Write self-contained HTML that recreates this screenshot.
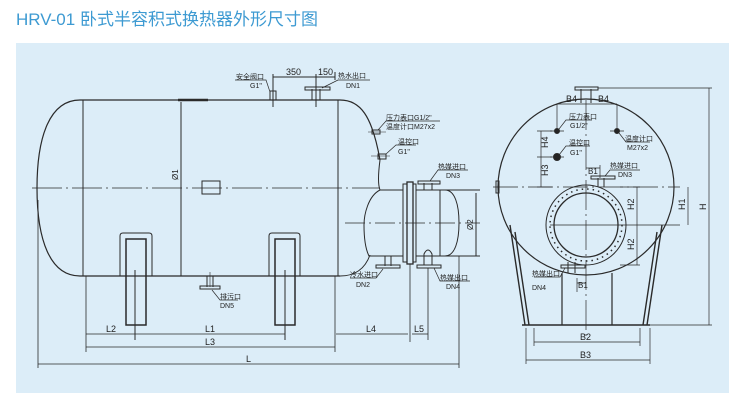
<!DOCTYPE html>
<html><head><meta charset="utf-8"><style>
html,body{margin:0;padding:0;background:#fff;}
body{width:750px;height:407px;position:relative;overflow:hidden;}
.t{position:absolute;left:16px;top:5px;font:17px "Liberation Sans","Noto Sans CJK SC",sans-serif;color:#3d9ad2;white-space:nowrap;}
.p{position:absolute;left:16px;top:43px;width:713px;height:350px;background:#dcedf8;}
svg{position:absolute;left:0;top:0;}
text{font-family:"Liberation Sans","Noto Sans CJK SC",sans-serif;fill:#222;}
</style></head><body>
<div class="t">HRV-01 卧式半容积式换热器外形尺寸图</div>
<div class="p"></div>
<svg width="750" height="407" viewBox="0 0 750 407" fill="none" stroke="#2a2a2a" stroke-width="1">
<!-- main vessel -->
<path d="M80 100 L340 100 C360 100 372 115 380 160 M340 276 L80 276 C50 276 37 240 37 188 C37 136 50 100 80 100" stroke-width="1.2"/>
<path d="M340 276 C358 276 366 266 370 255"/>
<line x1="83" y1="100" x2="83" y2="276"/><line x1="338" y1="100" x2="338" y2="276"/>
<line x1="178" y1="100" x2="208" y2="100" stroke-width="2.5"/>
<line x1="181" y1="102" x2="181" y2="276"/>
<text x="178" y="180" font-size="8" transform="rotate(-90 178 180)" stroke="none">Ø1</text>
<rect x="202" y="181" width="18" height="13"/>
<line x1="32" y1="188" x2="380" y2="188" stroke-dasharray="30 4 2 4" stroke-width=".7"/>
<!-- saddles -->
<path d="M120 276 V236 Q120 233 123 233 H149 Q152 233 152 236 V276" /><rect x="126" y="239" width="20" height="86" stroke-width="1.5"/>
<path d="M269 276 V236 Q269 233 272 233 H297 Q300 233 300 236 V276" /><rect x="275" y="239" width="20" height="86" stroke-width="1.5"/>
<line x1="135" y1="270" x2="135" y2="340"/><line x1="285" y1="270" x2="285" y2="340"/>
<!-- drain -->
<path d="M207 276 V287 M213 276 V287" /><rect x="200" y="286" width="20" height="3"/>
<line x1="210" y1="272" x2="210" y2="287" stroke-width=".6"/>
<path d="M212 290 L220 300 H238" stroke-width=".7"/>
<!-- top nozzles -->
<rect x="270" y="91" width="6" height="9"/><line x1="273" y1="74" x2="273" y2="107"/>
<path d="M312 89 V100 M320 89 V100"/><rect x="305" y="87" width="25" height="3"/><line x1="316" y1="74" x2="316" y2="107"/>
<line x1="335" y1="72" x2="335" y2="80"/>
<line x1="273" y1="77" x2="335" y2="77"/>
<path d="M235 80 H266 L270 92" stroke-width=".7"/>
<path d="M322 88 L338 80 H370" stroke-width=".7"/>
<!-- right head ports -->
<rect x="372" y="130" width="8" height="4"/><line x1="368" y1="132" x2="386" y2="132" stroke-width=".6"/>
<path d="M378 130 L386 121 H440" stroke-width=".7"/>
<rect x="378" y="154" width="8" height="5"/><line x1="371" y1="156" x2="390" y2="156" stroke-width=".6"/>
<path d="M386 154 L396 145 H416" stroke-width=".7"/>
<!-- small exchanger -->
<path d="M380 160 C378 175 378 185 380 190 C368 196 364 215 364 225 C364 240 366 250 369 256 H403 M380 190 H403"/>
<line x1="345" y1="223" x2="480" y2="223" stroke-dasharray="20 4 2 4" stroke-width=".7"/>
<rect x="403" y="184" width="4" height="78"/><rect x="407" y="182" width="6" height="82" stroke-width="1.3"/><rect x="413" y="184" width="3" height="78"/>
<line x1="410" y1="264" x2="410" y2="342" stroke-width=".8"/>
<path d="M416 190 H445 C455 190 459 205 459 223 C459 241 455 256 445 256 H416"/>
<line x1="440" y1="190" x2="440" y2="256"/>
<path d="M445 190 H480 M445 256 H480"/><line x1="476" y1="193" x2="476" y2="256"/>
<text x="473" y="230" font-size="8" transform="rotate(-90 473 230)" stroke="none">Ø2</text>
<path d="M424 183 V190 M432 183 V190"/><rect x="418" y="181" width="22" height="3"/>
<path d="M430 181 L438 170 H468" stroke-width=".7"/>
<path d="M385 256 V266 M391 256 V266"/><rect x="376" y="265" width="24" height="3"/>
<path d="M383 269 L376 278 H350" stroke-width=".7"/>
<path d="M424 265 V254 Q428 246 432 254 V265"/><rect x="417" y="265" width="24" height="3"/>
<line x1="428" y1="268" x2="428" y2="340" stroke-width=".8"/>
<path d="M434 268 L440 281 H470" stroke-width=".7"/>
<!-- bottom dimensions -->
<g stroke-width=".8">
<line x1="86" y1="276" x2="86" y2="352"/><line x1="335" y1="276" x2="335" y2="352"/>
<line x1="38" y1="200" x2="38" y2="368"/><line x1="459" y1="256" x2="459" y2="368"/>
<line x1="86" y1="334" x2="285" y2="334"/><line x1="336" y1="334" x2="408" y2="334"/><line x1="412" y1="334" x2="428" y2="334"/>
<line x1="86" y1="347" x2="335" y2="347"/><line x1="38" y1="364" x2="459" y2="364"/>
</g>
<!-- right view -->
<circle cx="586" cy="187" r="88" stroke-width="1.2"/>
<circle cx="586" cy="225" r="40"/><circle cx="586" cy="225" r="36" stroke-dasharray="1.5 4" stroke-width="1.5"/><circle cx="586" cy="225" r="32" stroke-width="1.3"/>
<line x1="493" y1="187" x2="680" y2="187" stroke-dasharray="25 4 2 4" stroke-width=".7"/>
<line x1="586" y1="100" x2="586" y2="340" stroke-dasharray="30 4 2 4" stroke-width=".7"/>
<line x1="550" y1="225" x2="680" y2="225" stroke-width=".8"/>
<rect x="496" y="181" width="3" height="12"/>
<path d="M581 89 V103 M591 89 V103"/><rect x="575" y="87" width="23" height="3"/>
<line x1="598" y1="88" x2="712" y2="88" stroke-width=".8"/>
<!-- legs -->
<path d="M510 225 L525 325 M515 232 L529 325 M662 225 L647 325 M657 232 L643 325" stroke-width="1.4"/>
<line x1="522" y1="325" x2="650" y2="325" stroke-width="1.6"/>
<path d="M562 273 V325 M612 273 V325" stroke-width="1.2"/>
<line x1="650" y1="325" x2="712" y2="325" stroke-width=".8"/>
<!-- ports right view -->
<path d="M598 178 V187 M604 178 V187"/><rect x="591" y="176" width="24" height="3"/>
<path d="M605 176 L610 170 H640" stroke-width=".7"/>
<path d="M568 273 V262 M575 273 V262"/><rect x="561" y="265" width="24" height="3"/>
<path d="M565 268 L560 277 H534" stroke-width=".7"/>
<circle cx="557" cy="131" r="2.5" fill="#222"/><circle cx="557" cy="157" r="3.5" fill="#222"/><circle cx="617" cy="131" r="2.5" fill="#222"/>
<g stroke-width=".7">
<path d="M550 131 H564 M610 131 H624 M550 157 H564 M557 104 V128 M617 104 V128"/>
<line x1="557" y1="104" x2="617" y2="104"/>
<path d="M537 131 H552 M537 157 H552 M537 187 H552"/><line x1="541" y1="131" x2="541" y2="187"/>
<path d="M559 129 L566 120 H592 M559 155 L566 146 H590 M619 133 L626 142 H650"/>
<path d="M586 168 H600 M600 165 V178 M577 283 H586 M577 278 V292"/>
<path d="M620 187 H640 M620 265 H640"/><line x1="637" y1="187" x2="637" y2="265"/>
<line x1="688" y1="187" x2="688" y2="225"/>
<line x1="709" y1="88" x2="709" y2="325"/>
<path d="M534 328 V346 M640 328 V346"/><line x1="534" y1="342" x2="640" y2="342"/>
<path d="M526 328 V364 M650 328 V364"/><line x1="526" y1="360" x2="650" y2="360"/>
</g>
<g stroke="none" font-size="7">
<text x="236" y="79">安全阀口</text><text x="250" y="88">G1"</text>
<text x="286" y="75" font-size="9">350</text><text x="318" y="75" font-size="9">150</text>
<text x="338" y="78">热水出口</text><text x="346" y="88">DN1</text>
<text x="386" y="120">压力表口G1/2"</text><text x="386" y="129">温度计口M27x2</text>
<text x="398" y="144">温控口</text><text x="398" y="154">G1"</text>
<text x="438" y="169">热媒进口</text><text x="446" y="178">DN3</text>
<text x="350" y="277">冷水进口</text><text x="356" y="287">DN2</text>
<text x="440" y="280">热媒出口</text><text x="446" y="289">DN4</text>
<text x="220" y="299">排污口</text><text x="220" y="308">DN5</text>
<g font-size="9"><text x="106" y="332">L2</text><text x="205" y="332">L1</text><text x="205" y="345">L3</text><text x="246" y="362">L</text>
<text x="366" y="332">L4</text><text x="414" y="332">L5</text>
<text x="566" y="102">B4</text><text x="598" y="102">B4</text>
<text x="588" y="174" font-size="8">B1</text><text x="578" y="288" font-size="8">B1</text>
<text x="580" y="340">B2</text><text x="580" y="358">B3</text>
<text x="548" y="148" transform="rotate(-90 548 148)">H4</text>
<text x="548" y="176" transform="rotate(-90 548 176)">H3</text>
<text x="634" y="210" transform="rotate(-90 634 210)">H2</text>
<text x="634" y="250" transform="rotate(-90 634 250)">H2</text>
<text x="685" y="210" transform="rotate(-90 685 210)">H1</text>
<text x="706" y="210" transform="rotate(-90 706 210)">H</text></g>
<text x="569" y="119">压力表口</text><text x="570" y="128">G1/2"</text>
<text x="569" y="145">温控口</text><text x="570" y="155">G1"</text>
<text x="625" y="141">温度计口</text><text x="627" y="150">M27x2</text>
<text x="610" y="168">热媒进口</text><text x="618" y="177">DN3</text>
<text x="532" y="276">热媒出口</text><text x="532" y="290">DN4</text>
</g>
</svg>
</body></html>
